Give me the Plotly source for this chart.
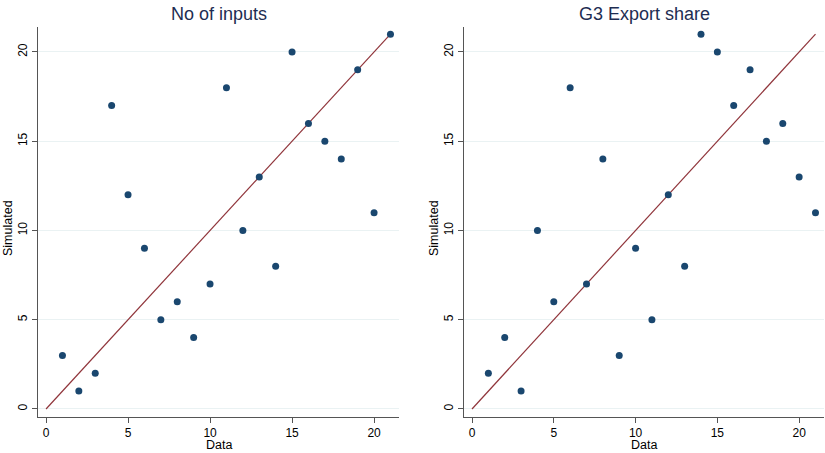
import plotly.graph_objects as go

titles = ["No of inputs", "G3 Export share"]
data_rank = list(range(1, 22))
sim_inputs = [3, 1, 2, 17, 12, 9, 5, 6, 4, 7, 18, 10, 13, 8, 20, 16, 15, 14, 19, 11, 21]
sim_g3 = [2, 4, 1, 10, 6, 18, 7, 14, 3, 9, 5, 12, 8, 21, 20, 17, 19, 15, 16, 13, 11]
diag = [0, 21]
ticks = [0, 5, 10, 15, 20]

fig = go.Figure()
navy = "#1a476f"
maroon = "#90353b"
textc = "#1e2d52"
font_fam = "Liberation Sans, Arial"

for i, sim in enumerate([sim_inputs, sim_g3]):
    xa = "x" if i == 0 else "x2"
    ya = "y" if i == 0 else "y2"
    fig.add_trace(go.Scatter(x=diag, y=diag, mode="lines",
                             line=dict(color=maroon, width=1.2),
                             xaxis=xa, yaxis=ya, showlegend=False, cliponaxis=False))
    fig.add_trace(go.Scatter(x=data_rank, y=sim, mode="markers",
                             marker=dict(color=navy, size=7),
                             xaxis=xa, yaxis=ya, showlegend=False, cliponaxis=False))

axis_common = dict(showline=True, linecolor="#555555", linewidth=1,
                   ticks="outside", ticklen=5, tickcolor="#555555",
                   tickfont=dict(family=font_fam, size=12, color="black"),
                   zeroline=False, tickvals=ticks, automargin=False)

L, R, T, B = 38, 1, 27, 36
W, H = 825, 453
pw = W - L - R

xdom = [[0, (399 - L) / pw], [(464 - L) / pw, 1.0]]
for i in range(2):
    sfx = "" if i == 0 else "2"
    fig.update_layout(**{
        "xaxis" + sfx: dict(domain=xdom[i], range=[-0.49, 21.52], showgrid=False,
                            anchor="y" + sfx, **axis_common),
        "yaxis" + sfx: dict(domain=[0, 1], range=[-0.45, 21.4], showgrid=True,
                            gridcolor="#eaf2f3", gridwidth=1, anchor="x" + sfx,
                            tickangle=-90, **axis_common),
    })
    cx = (xdom[i][0] + xdom[i][1]) / 2
    fig.add_annotation(text=titles[i], xref="paper", yref="paper",
                       x=cx, y=1.0, yshift=13,
                       xanchor="center", yanchor="middle", showarrow=False,
                       font=dict(family=font_fam, size=18, color=textc))
    fig.add_annotation(text="Data", xref="paper", yref="paper",
                       x=cx, y=0, yshift=-28,
                       xanchor="center", yanchor="middle", showarrow=False,
                       font=dict(family=font_fam, size=12.5, color="black"))
    fig.add_annotation(text="Simulated", xref="paper", yref="paper",
                       x=xdom[i][0], y=0.5, xshift=-30, yshift=-6, textangle=-90,
                       xanchor="center", yanchor="middle", showarrow=False,
                       font=dict(family=font_fam, size=12.5, color="black"))

fig.update_layout(width=W, height=H, margin=dict(l=L, r=R, t=T, b=B),
                  paper_bgcolor="white", plot_bgcolor="white")

fig.write_html("out.html", config={"displayModeBar": False},
               post_script="document.body.style.margin='0px';document.body.style.padding='0px';")
